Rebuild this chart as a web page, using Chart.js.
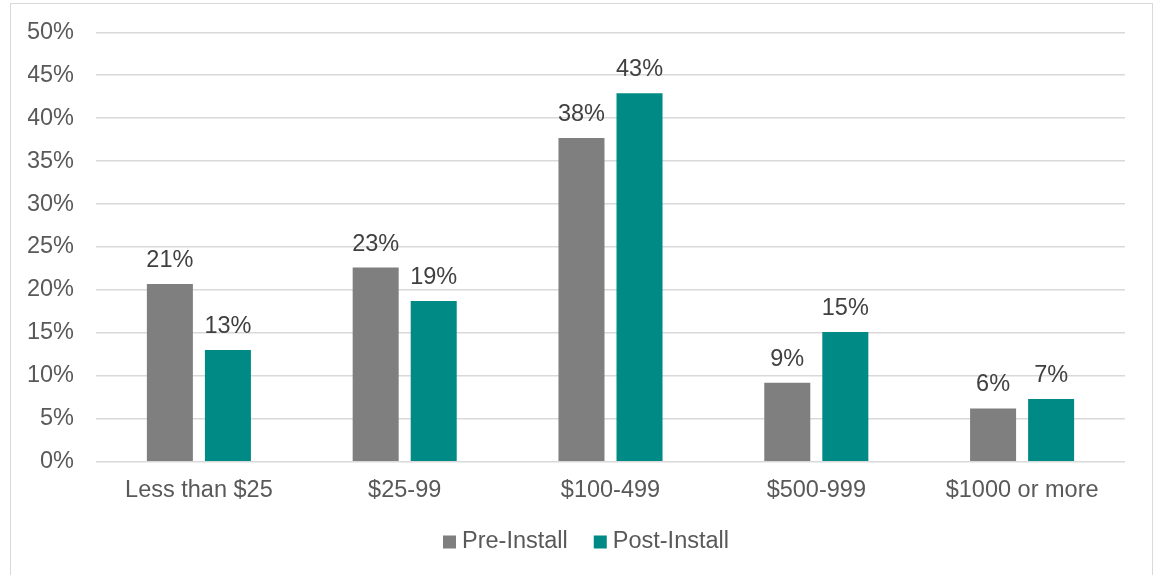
<!DOCTYPE html>
<html lang="en">
<head>
    <meta charset="UTF-8">
    <title>Pre vs Post Install</title>
    <script src="https://cdn.jsdelivr.net/npm/chart.js"></script>
    <style>
        html, body { margin: 0; padding: 0; background: #fff; }
        #wrap { position: relative; width: 1154px; height: 575px; }
    </style>
</head>
<body>
    <div id="wrap"><canvas id="chart"></canvas></div>

    <script>
        // chart data
        const categories = ["Less than $25", "$25-99", "$100-499", "$500-999", "$1000 or more"];
        const preInstall = [20.7, 22.6, 37.7, 9.2, 6.2];
        const postInstall = [13.0, 18.7, 42.9, 15.1, 7.3];
        const seriesNames = ["Pre-Install", "Post-Install"];
        const seriesColors = ["#7F7F7F", "#008A85"];

        const font = "'Liberation Sans', Arial, sans-serif";
        const fontSize = 23.5;

        // light frame around the whole chart
        const frame = {
            id: "frame",
            beforeDraw(chart) {
                const ctx = chart.ctx;
                ctx.save();
                ctx.strokeStyle = "#D9D9D9";
                ctx.lineWidth = 1;
                ctx.strokeRect(10.5, 3.5, 1142, 600);
                ctx.restore();
            }
        };

        // value labels above bars
        const barLabels = {
            id: "barLabels",
            afterDatasetsDraw(chart) {
                const ctx = chart.ctx;
                ctx.save();
                ctx.font = fontSize + "px " + font;
                ctx.fillStyle = "#404040";
                ctx.textAlign = "center";
                ctx.textBaseline = "alphabetic";
                chart.data.datasets.forEach((ds, i) => {
                    chart.getDatasetMeta(i).data.forEach((bar, j) => {
                        ctx.fillText(Math.round(ds.data[j]) + "%", bar.x, bar.y - 17);
                    });
                });
                ctx.restore();
            }
        };

        // Excel-like legend: small square then text, centered under the plot
        const excelLegend = {
            id: "excelLegend",
            afterDraw(chart) {
                const ctx = chart.ctx;
                ctx.save();
                ctx.font = fontSize + "px " + font;
                ctx.textBaseline = "middle";
                ctx.textAlign = "left";
                const y = 541.5;
                const items = chart.data.datasets.map(ds => ({
                    text: ds.label, color: ds.backgroundColor,
                    w: 19 + ctx.measureText(ds.label).width
                }));
                const gap = 26;
                const total = items.reduce((s, it) => s + it.w, 0) + gap * (items.length - 1);
                let x = 586 - total / 2;
                items.forEach(it => {
                    ctx.fillStyle = it.color;
                    ctx.fillRect(x, y - 6, 13, 13);
                    ctx.fillStyle = "#595959";
                    ctx.fillText(it.text, x + 19, y);
                    x += it.w + gap;
                });
                ctx.restore();
            }
        };

        new Chart(document.getElementById("chart"), {
            type: "bar",
            data: {
                labels: categories,
                datasets: [
                    { label: seriesNames[0], data: preInstall, backgroundColor: seriesColors[0] },
                    { label: seriesNames[1], data: postInstall, backgroundColor: seriesColors[1] }
                ]
            },
            options: {
                responsive: true,
                maintainAspectRatio: false,
                animation: false,
                categoryPercentage: 0.564,
                barPercentage: 0.793,
                layout: { padding: { top: 32.3, left: 28, right: 29, bottom: 63.3 } },
                scales: {
                    x: {
                        grid: { display: false, drawTicks: false },
                        border: { display: false },
                        ticks: { color: "#595959", font: { family: font, size: fontSize }, padding: 15 },
                        afterFit: s => { s.height = 50; }
                    },
                    y: {
                        min: 0,
                        max: 50,
                        grid: { color: "#D9D9D9", lineWidth: 1.5, drawTicks: false },
                        border: { display: false },
                        ticks: {
                            stepSize: 5,
                            color: "#595959",
                            padding: 22,
                            font: { family: font, size: fontSize },
                            callback: v => v + "%"
                        },
                        afterFit: s => {
                            s.width = 68;
                            // keep the tick padding from pushing the plot down
                            s.paddingTop = 0;
                            s.paddingBottom = 0;
                        }
                    }
                },
                plugins: {
                    legend: { display: false },
                    tooltip: { enabled: false }
                }
            },
            plugins: [frame, barLabels, excelLegend]
        });
    </script>
</body>
</html>
